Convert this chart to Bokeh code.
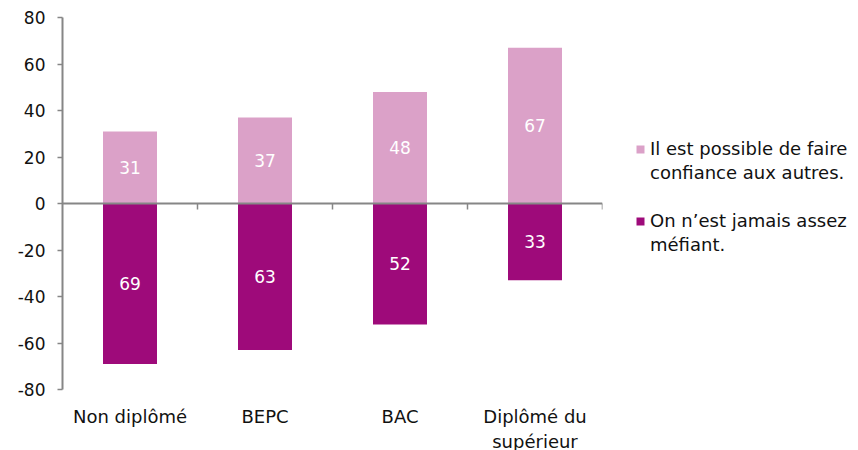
from bokeh.plotting import figure
from bokeh.models import ColumnDataSource, FixedTicker, Span, Legend, LegendItem, Range1d
from bokeh.core.properties import value
from bokeh.embed import file_html
from bokeh.resources import INLINE

categories = ["Non diplômé", "BEPC", "BAC", "Diplômé du\nsupérieur"]
confiance = [31, 37, 48, 67]
mefiant = [69, 63, 52, 33]
series_labels = [["Il est possible de faire", "confiance aux autres."],
                 ["On n\u2019est jamais assez", "méfiant."]]
y_ticks = [-80, -60, -40, -20, 0, 20, 40, 60, 80]

PINK = "#DBA1C8"
MAGENTA = "#9E0A7A"
GRAY = "#868686"
FONT = "DejaVu Sans"

xc = [i + 0.5 for i in range(len(categories))]
src = ColumnDataSource(dict(
    x=xc,
    conf=confiance,
    mef=[-v for v in mefiant],
    conf_mid=[v / 2 for v in confiance],
    mef_mid=[-v / 2 for v in mefiant],
    conf_txt=[str(v) for v in confiance],
    mef_txt=[str(v) for v in mefiant],
))

p = figure(frame_width=540, frame_height=372, output_backend="svg", toolbar_location=None,
           x_range=Range1d(0, len(categories)), y_range=Range1d(y_ticks[0], y_ticks[-1]),
           min_border_left=62, min_border_top=17, min_border_right=256, min_border_bottom=61)
p.outline_line_color = None
p.xgrid.visible = False
p.ygrid.visible = False

r1 = p.vbar(x="x", top="conf", bottom=0, width=0.4, source=src, fill_color=PINK, line_color=None)
r2 = p.vbar(x="x", top=0, bottom="mef", width=0.4, source=src, fill_color=MAGENTA, line_color=None)
blank = p.scatter(x=[], y=[], marker="square", fill_alpha=0, line_alpha=0)

p.text(x="x", y="conf_mid", text="conf_txt", source=src, text_align="center", text_baseline="middle",
       text_color="white", text_font=value(FONT), text_font_size="17px")
p.text(x="x", y="mef_mid", text="mef_txt", source=src, text_align="center", text_baseline="middle",
       text_color="white", text_font=value(FONT), text_font_size="17px")

# zero axis line with boundary ticks
p.add_layout(Span(location=0, dimension="width", line_color=GRAY, line_width=2))
bounds = list(range(1, len(categories) + 1))
p.segment(x0=bounds, y0=[0] * len(bounds), x1=bounds, y1=[-2.6] * len(bounds),
          line_color=GRAY, line_width=1.5)

# y axis
p.yaxis.ticker = FixedTicker(ticks=y_ticks)
p.yaxis.major_label_overrides = {t: str(t) for t in y_ticks}
p.yaxis.axis_line_color = GRAY
p.yaxis.axis_line_width = 2
p.yaxis.major_tick_line_color = GRAY
p.yaxis.major_tick_line_width = 1.5
p.yaxis.major_tick_out = 5
p.yaxis.major_tick_in = 0
p.yaxis.minor_tick_line_color = None
p.yaxis.major_label_text_font = FONT
p.yaxis.major_label_text_font_size = "17px"
p.yaxis.major_label_text_color = "#111111"
p.yaxis.major_label_standoff = 12

# x axis (labels only)
p.xaxis.ticker = FixedTicker(ticks=xc)
p.xaxis.major_label_overrides = {x: c for x, c in zip(xc, categories)}
p.xaxis.axis_line_color = None
p.xaxis.major_tick_line_color = None
p.xaxis.minor_tick_line_color = None
p.xaxis.major_label_text_font = FONT
p.xaxis.major_label_text_font_size = "18px"
p.xaxis.major_label_text_color = "#111111"
p.xaxis.major_label_standoff = 10

legend = Legend(items=[LegendItem(label=series_labels[0][0], renderers=[r1]),
                       LegendItem(label=series_labels[0][1], renderers=[blank]),
                       LegendItem(label=" ", renderers=[blank]),
                       LegendItem(label=series_labels[1][0], renderers=[r2]),
                       LegendItem(label=series_labels[1][1], renderers=[blank])],
                location=(33, 133), orientation="vertical",
                label_text_font=FONT, label_text_font_size="18px", label_text_color="#111111",
                glyph_width=10, glyph_height=10, label_standoff=5, spacing=1, label_height=23,
                padding=0, margin=0, border_line_color=None, background_fill_alpha=0)
p.add_layout(legend, "right")

open("out.html", "w").write(file_html(p, INLINE))
